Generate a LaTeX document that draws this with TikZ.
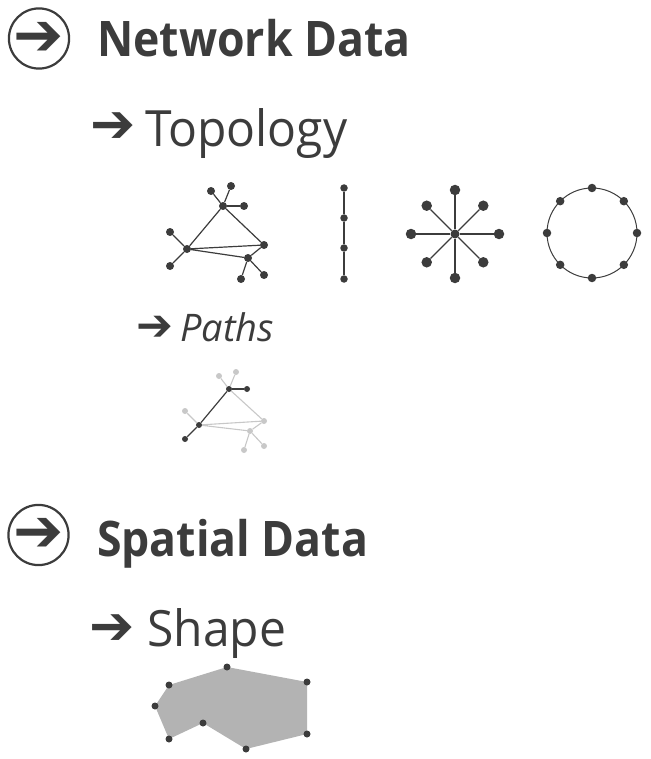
\documentclass[tikz,border=0pt]{standalone}
\usepackage{fontspec}
\setsansfont{Open Sans}
\newfontfamily\headfont{Open Sans}[FakeStretch=0.91]
\newfontfamily\subfont{Open Sans}[FakeStretch=0.96]
\newfontfamily\symfont{DejaVu Sans}
\usepackage{xcolor}
\usetikzlibrary{arrows.meta,positioning,calc}
\definecolor{ink}{HTML}{3C3C3C}
\definecolor{faint}{HTML}{C8C8C8}
\definecolor{shapegray}{HTML}{B3B3B3}

\begin{document}
\begin{tikzpicture}[
  x=1pt, y=-1pt,
  dot/.style={circle, fill=ink, inner sep=0pt, minimum size=8pt},
  smalldot/.style={dot, minimum size=6pt},
  faintdot/.style={smalldot, fill=faint},
  lnk/.style={draw=ink, line width=1.2pt},
  faintlnk/.style={draw=faint, line width=1.1pt},
  thicklnk/.style={draw=ink, line width=2.6pt},
  head/.style={anchor=base west, inner sep=0pt, text=ink,
    font=\headfont\bfseries\fontsize{49}{49}\selectfont},
  sub/.style={anchor=base west, inner sep=0pt, text=ink,
    font=\subfont\fontsize{50}{50}\selectfont},
  pointer/.style={inner sep=0pt, text=ink,
    font=\symfont\fontsize{54}{54}\selectfont},
  circlemark/.style={circle, draw=ink, line width=2.2pt, minimum size=60pt,
    inner sep=0pt, text=ink, font=\symfont\fontsize{60}{60}\selectfont},
]
  \useasboundingbox (0,0) rectangle (650,759);

  % Network data heading
  \node[circlemark] (netmark) at (39,38.5) {➔};
  \node[head] (nettitle) at (97,56.5) {Network Data};

  % Topology
  \node[pointer] (topoarrow) at (113,128) {➔};
  \node[sub] (topotitle) at (145,147) {Topology};

  % general graph
  \node[dot] (gt) at (223,206) {};
  \node[dot] (gta) at (211,191) {};
  \node[dot] (gtb) at (231,186) {};
  \node[dot] (gtc) at (244,206) {};
  \node[dot] (gl) at (187,249) {};
  \node[dot] (gla) at (170,232) {};
  \node[dot] (glb) at (170,266) {};
  \node[dot] (gr) at (264,245) {};
  \node[dot] (gb) at (248,258) {};
  \node[dot] (gba) at (241,279) {};
  \node[dot] (gbb) at (264,275) {};
  \draw[lnk] (gt) -- (gta) (gt) -- (gtb) (gt) -- (gl) (gt) -- (gr);
  \draw[thicklnk] (gt) -- (gtc);
  \draw[lnk] (gl) -- (gla) (gl) -- (glb) (gl) -- (gr) (gl) -- (gb);
  \draw[lnk] (gb) -- (gr) (gb) -- (gba) (gb) -- (gbb);

  % chain
  \foreach \y [count=\i] in {188,218,248,279}
    \node[dot, minimum size=7.5pt] (c\i) at (344,\y) {};
  \draw[lnk] (c1) -- (c2) -- (c3) -- (c4);

  % star
  \node[dot, minimum size=9pt] (hub) at (455,234) {};
  \foreach \a/\r [count=\i] in {0/44,45/40,90/44,135/40,180/44,225/40,270/44,315/40} {
    \node[dot, minimum size=10.5pt] (s\i) at ($(hub)+(\a:\r)$) {};
    \draw[lnk] (hub) -- (s\i);
  }

  % ring
  \coordinate (ringc) at (592,233);
  \draw[ink, line width=1pt] (ringc) circle (45);
  \foreach \a [count=\i] in {0,45,...,315}
    \node[dot, minimum size=8.5pt] (o\i) at ($(ringc)+(\a:45)$) {};

  % Paths
  \node[pointer, font=\symfont\fontsize{44}{44}\selectfont] (patharrow) at (155,328) {➔};
  \node[sub, font=\sffamily\itshape\fontsize{38}{38}\selectfont] (pathtitle) at (180,341.7) {Paths};

  \node[smalldot] (qt) at (229,389) {};
  \node[faintdot] (qta) at (219,376) {};
  \node[faintdot] (qtb) at (236,372) {};
  \node[smalldot] (qtc) at (247,389) {};
  \node[smalldot] (ql) at (199,425) {};
  \node[faintdot] (qla) at (185,411) {};
  \node[smalldot] (qlb) at (185,439) {};
  \node[faintdot] (qr) at (264,421) {};
  \node[faintdot] (qb) at (250,431) {};
  \node[faintdot] (qba) at (244,450) {};
  \node[faintdot] (qbb) at (264,446) {};
  \draw[faintlnk] (qt) -- (qta) (qt) -- (qtb) (qt) -- (qr);
  \draw[faintlnk] (ql) -- (qla) (ql) -- (qr) (ql) -- (qb);
  \draw[faintlnk] (qb) -- (qr) (qb) -- (qba) (qb) -- (qbb);
  \draw[lnk] (qlb) -- (ql) -- (qt);
  \draw[thicklnk, line width=2.2pt] (qt) -- (qtc);

  % Spatial data heading
  \node[circlemark] (spacemark) at (38.5,535) {➔};
  \node[head] (spacetitle) at (97,556.5) {Spatial Data};

  % Shape
  \node[pointer] (shapearrow) at (112.5,630) {➔};
  \node[sub] (shapetitle) at (147,646.5) {Shape};

  \fill[shapegray] (227,667) -- (307,682) -- (307,734) -- (246,749)
    -- (203,723) -- (169,739) -- (155,706) -- (169,685) -- cycle;
  \foreach \p [count=\i] in {(227,667),(307,682),(307,734),(246,749),(203,723),(169,739),(155,706),(169,685)}
    \node[dot, minimum size=7pt] (v\i) at \p {};

\end{tikzpicture}
\end{document}
